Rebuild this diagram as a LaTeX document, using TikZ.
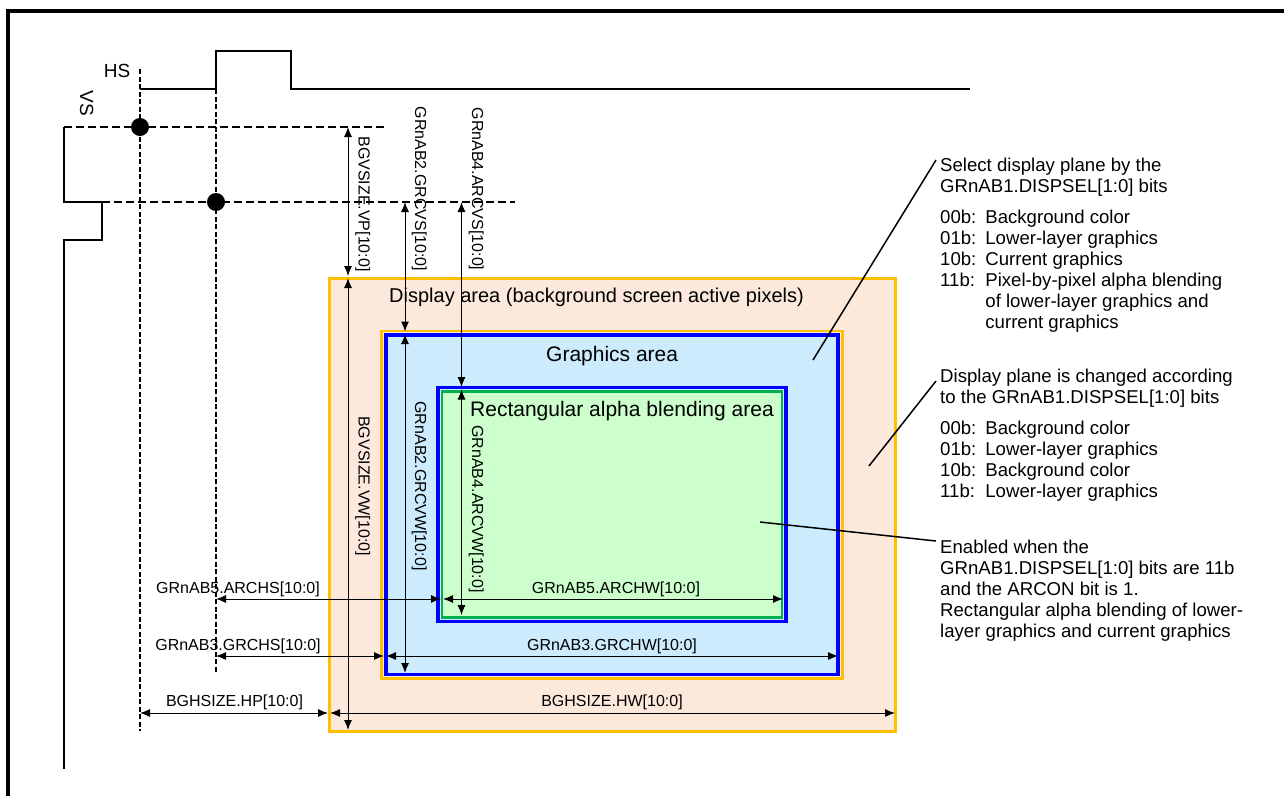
\documentclass[tikz,border=0pt]{standalone}
\usepackage{fontspec}
\setmainfont{Liberation Sans}
\usetikzlibrary{arrows.meta}
\definecolor{peach}{HTML}{FCE9DC}
\definecolor{gold}{HTML}{FFC000}
\definecolor{lblue}{HTML}{CCEBFD}
\definecolor{lgreen}{HTML}{CCFFCC}
\definecolor{dgreen}{HTML}{00B050}
\definecolor{pblue}{HTML}{0000FF}
\begin{document}
\begin{tikzpicture}[x=1pt,y=-1pt,
  wave/.style={line width=2.2pt},
  dashh/.style={line width=1.6pt, dash pattern=on 8pt off 4pt},
  dashv/.style={line width=1.6pt, dash pattern=on 5pt off 2.5pt},
  dimarrow/.style={line width=1pt, {Latex[length=10pt,width=8pt]}-{Latex[length=10pt,width=8pt]}},
  lbl/.style={font=\fontsize{16}{19}\selectfont, inner sep=0pt, anchor=base},
  vlbl/.style={lbl, rotate=-90},
  big/.style={font=\fontsize{21}{25}\selectfont, inner sep=0pt, anchor=base west},
  sig/.style={font=\fontsize{19}{22}\selectfont, inner sep=0pt, anchor=base},
  note/.style={font=\fontsize{18.6}{21}\selectfont, inner sep=0pt, anchor=north west},
  leader/.style={line width=1.5pt},
  dot/.style={circle, fill=black, inner sep=0pt, minimum size=18pt}
]
\useasboundingbox (0,0) rectangle (1284,796);
% frame
\draw[line width=3.4pt] (8,796) -- (8,11) -- (1284,11);

% signal names
\node[sig] (hs) at (117,77) {HS};
\node[sig, rotate=-90] (vs) at (80,103) {VS};

% waveforms
\draw[wave] (140,89) -- (216,89) -- (216,51) -- (291,51) -- (291,89) -- (970,89);
\draw[wave] (64,127) -- (64,202) -- (102,202) -- (102,240) -- (64,240) -- (64,769);

% dashed guides
\draw[dashh] (64,127) -- (386,127);
\draw[dashh] (102,202) -- (515,202);
\draw[dashv] (140,69) -- (140,731);
\draw[dashv] (216,89) -- (216,673);
\node[dot] (dot1) at (140,127) {};
\node[dot] (dot2) at (216,202) {};

% areas
\filldraw[fill=peach, draw=gold, line width=3pt] (329,278) rectangle (895,731);
\draw[gold, line width=2.5pt] (381.5,331) rectangle (842.5,678.5);
\filldraw[fill=lblue, draw=pblue, line width=3.2pt] (386,335) rectangle (838,674.5);
\filldraw[fill=lblue, draw=pblue, line width=3.2pt] (438,387.5) rectangle (786,621.5);
\filldraw[fill=lgreen, draw=dgreen, line width=2.8pt] (442,391.5) rectangle (782,617.5);

\node[big, font=\fontsize{20}{24}\selectfont] (tdisp) at (389,302) {Display area (background screen active pixels)};
\node[big] (tgfx) at (546,361) {Graphics area};
\node[big] (talp) at (470,416) {Rectangular alpha blending area};

% vertical dimensions
\coordinate (vpT) at (348,127);   \coordinate (vpB) at (348,276);
\coordinate (vwT) at (348,278);   \coordinate (vwB) at (348,730);
\coordinate (gvsT) at (405,202);  \coordinate (gvsB) at (405,331.5);
\coordinate (gvwT) at (405,334);  \coordinate (gvwB) at (405,673);
\coordinate (avsT) at (461.5,202);  \coordinate (avsB) at (461.5,387);
\coordinate (avwT) at (461.5,389.5);  \coordinate (avwB) at (461.5,615);
\draw[dimarrow] (vpT) -- (vpB);
\draw[dimarrow] (vwT) -- (vwB);
\draw[dimarrow] (gvsT) -- (gvsB);
\draw[dimarrow] (gvwT) -- (gvwB);
\draw[dimarrow] (avsT) -- (avsB);
\draw[dimarrow] (avwT) -- (avwB);

% horizontal dimensions
\coordinate (ahsL) at (216,599);  \coordinate (ahsR) at (441,599);
\coordinate (ahwL) at (443,599);  \coordinate (ahwR) at (783,599);
\coordinate (ghsL) at (216,656);  \coordinate (ghsR) at (384,656);
\coordinate (ghwL) at (386,656);  \coordinate (ghwR) at (838,656);
\coordinate (hpL) at (140,713);   \coordinate (hpR) at (328,713);
\coordinate (hwL) at (330,713);   \coordinate (hwR) at (895,713);
\draw[dimarrow] (ahsL) -- (ahsR);
\draw[dimarrow] (ahwL) -- (ahwR);
\draw[dimarrow] (ghsL) -- (ghsR);
\draw[dimarrow] (ghwL) -- (ghwR);
\draw[dimarrow] (hpL) -- (hpR);
\draw[dimarrow] (hwL) -- (hwR);

% dimension labels
\node[vlbl] (lvp) at (358.5,204) {BGVSIZE.VP[10:0]};
\node[vlbl] (lvw) at (358.5,486) {BGVSIZE.VW[10:0]};
\node[vlbl] (lgvs) at (415,189) {GRnAB2.GRCVS[10:0]};
\node[vlbl] (lgvw) at (415,486) {GRnAB2.GRCVW[10:0]};
\node[vlbl] (lavs) at (472,189) {GRnAB4.ARCVS[10:0]};
\node[vlbl] (lavw) at (472,509) {GRnAB4.ARCVW[10:0]};
\node[lbl] (lahs) at (238,593) {GRnAB5.ARCHS[10:0]};
\node[lbl] (lahw) at (616,593) {GRnAB5.ARCHW[10:0]};
\node[lbl] (lghs) at (238,650) {GRnAB3.GRCHS[10:0]};
\node[lbl] (lghw) at (612,650) {GRnAB3.GRCHW[10:0]};
\node[lbl] (lhp) at (234.5,706.5) {BGHSIZE.HP[10:0]};
\node[lbl] (lhw) at (612,706.5) {BGHSIZE.HW[10:0]};

% notes (top = first baseline - 14.7)
\node[note] (note1) at (940,156.3) {%
\begin{tabular}{@{}l@{\hspace{9pt}}l@{}}
\multicolumn{2}{@{}l@{}}{Select display plane by the}\\
\multicolumn{2}{@{}l@{}}{GRnAB1.DISPSEL[1:0] bits}\\[10pt]
00b: & Background color\\
01b: & Lower-layer graphics\\
10b: & Current graphics\\
11b: & Pixel-by-pixel alpha blending\\
     & of lower-layer graphics and\\
     & current graphics
\end{tabular}};
\node[note] (note2) at (940,367.3) {%
\begin{tabular}{@{}l@{\hspace{9pt}}l@{}}
\multicolumn{2}{@{}l@{}}{Display plane is changed according}\\
\multicolumn{2}{@{}l@{}}{to the GRnAB1.DISPSEL[1:0] bits}\\[10pt]
00b: & Background color\\
01b: & Lower-layer graphics\\
10b: & Background color\\
11b: & Lower-layer graphics
\end{tabular}};
\node[note] (note3) at (940,538.3) {%
\begin{tabular}{@{}l@{}}
Enabled when the\\
GRnAB1.DISPSEL[1:0] bits are 11b\\
and the ARCON bit is 1.\\
Rectangular alpha blending of lower-\\
layer graphics and current graphics
\end{tabular}};

% leaders
\coordinate (l1a) at (813,360);  \coordinate (l1b) at (936,160);
\coordinate (l2a) at (869,466);  \coordinate (l2b) at (936,381);
\coordinate (l3a) at (760,522);  \coordinate (l3b) at (936,541);
\draw[leader] (l1a) -- (l1b);
\draw[leader] (l2a) -- (l2b);
\draw[leader] (l3a) -- (l3b);
\end{tikzpicture}
\end{document}
